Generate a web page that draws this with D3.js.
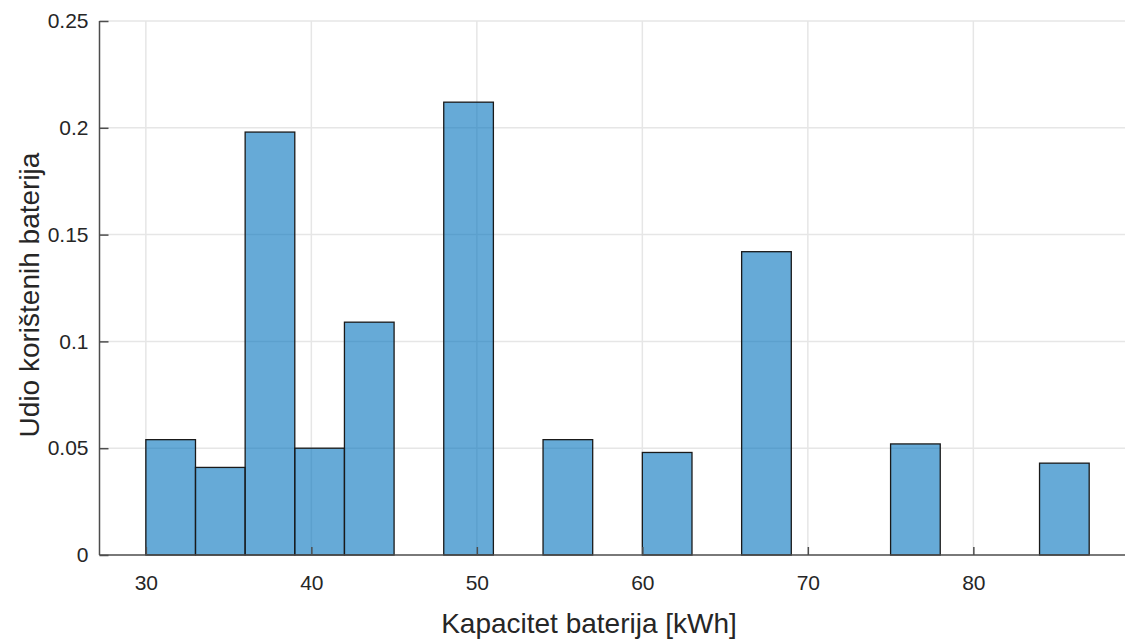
<!DOCTYPE html>
<html>
<head>
<meta charset="utf-8">
<script src="https://cdn.jsdelivr.net/npm/d3@7"></script>
<style>
  body { margin: 0; background: #fff; }
  text { font-family: "Liberation Sans", Arial, sans-serif; fill: #262626; }
</style>
</head>
<body>
<div id="chart"></div>
<script>
// histogram bins (kWh), width 3
const binStarts = [30, 33, 36, 39, 42, 45, 48, 51, 54, 57, 60, 63, 66, 69, 72, 75, 78, 81, 84];
const binValues = [0.054, 0.041, 0.198, 0.050, 0.109, 0, 0.212, 0, 0.054, 0, 0.048, 0, 0.142, 0, 0, 0.052, 0, 0, 0.043];
const xTicks = [30, 40, 50, 60, 70, 80];
const yTicks = [0, 0.05, 0.1, 0.15, 0.2, 0.25];
const binWidth = 3;

const width = 1125, height = 641;
const plotLeft = 99.5, plotTop = 21, plotBottom = 555;

const svg = d3.select('#chart').append('svg')
    .attr('width', width)
    .attr('height', height);

const x = d3.scaleLinear().domain([27.2, 90]).range([plotLeft, plotLeft + 62.8 * 16.55]);
const y = d3.scaleLinear().domain([0, 0.25]).range([plotBottom, plotTop]);

// grid
const grid = svg.append('g');
grid.selectAll('.gx').data(xTicks).enter().append('line')
    .attr('x1', d => x(d)).attr('x2', d => x(d))
    .attr('y1', plotTop).attr('y2', plotBottom)
    .attr('stroke', '#e6e6e6').attr('stroke-width', 1.5);
grid.selectAll('.gy').data(yTicks.slice(1)).enter().append('line')
    .attr('x1', plotLeft).attr('x2', width)
    .attr('y1', d => y(d)).attr('y2', d => y(d))
    .attr('stroke', '#e6e6e6').attr('stroke-width', 1.5);

// bars
svg.append('g').selectAll('rect')
    .data(binStarts)
    .enter().append('rect')
    .attr('x', d => x(d))
    .attr('width', d => x(d + binWidth) - x(d))
    .attr('y', (d, i) => y(binValues[i]))
    .attr('height', (d, i) => y(0) - y(binValues[i]))
    .attr('fill', '#0072BD')
    .attr('fill-opacity', 0.6)
    .attr('stroke', '#1a1a1a')
    .attr('stroke-width', 1.3);

// axes
const xAxis = d3.axisBottom(x).tickValues(xTicks).tickSize(-8).tickPadding(20)
    .tickFormat(d3.format('d'));
const gx = svg.append('g').attr('transform', 'translate(0,' + plotBottom + ')').call(xAxis);
gx.select('.domain').attr('stroke', '#4d4d4d').attr('stroke-width', 1.5)
    .attr('d', 'M' + plotLeft + ',0H' + width);
gx.selectAll('.tick line').attr('stroke', '#4d4d4d').attr('stroke-width', 1.5);
gx.selectAll('.tick text').style('font-size', '21px').attr('fill', '#262626');

const yAxis = d3.axisLeft(y).tickValues(yTicks).tickSize(-9).tickPadding(11)
    .tickFormat(d => d === 0 ? '0' : String(d));
const gy = svg.append('g').attr('transform', 'translate(' + plotLeft + ',0)').call(yAxis);
gy.select('.domain').attr('stroke', '#4d4d4d').attr('stroke-width', 1.5)
    .attr('d', 'M0,' + plotTop + 'V' + plotBottom);
gy.selectAll('.tick line').attr('stroke', '#4d4d4d').attr('stroke-width', 1.5);
gy.selectAll('.tick text').style('font-size', '21px').attr('fill', '#262626');

// labels
svg.append('text')
    .attr('x', 589).attr('y', 633)
    .attr('text-anchor', 'middle')
    .style('font-size', '28px')
    .text('Kapacitet baterija [kWh]');

svg.append('text')
    .attr('transform', 'translate(39,295) rotate(-90)')
    .attr('text-anchor', 'middle')
    .style('font-size', '28px')
    .text('Udio korištenih baterija');
</script>
</body>
</html>
